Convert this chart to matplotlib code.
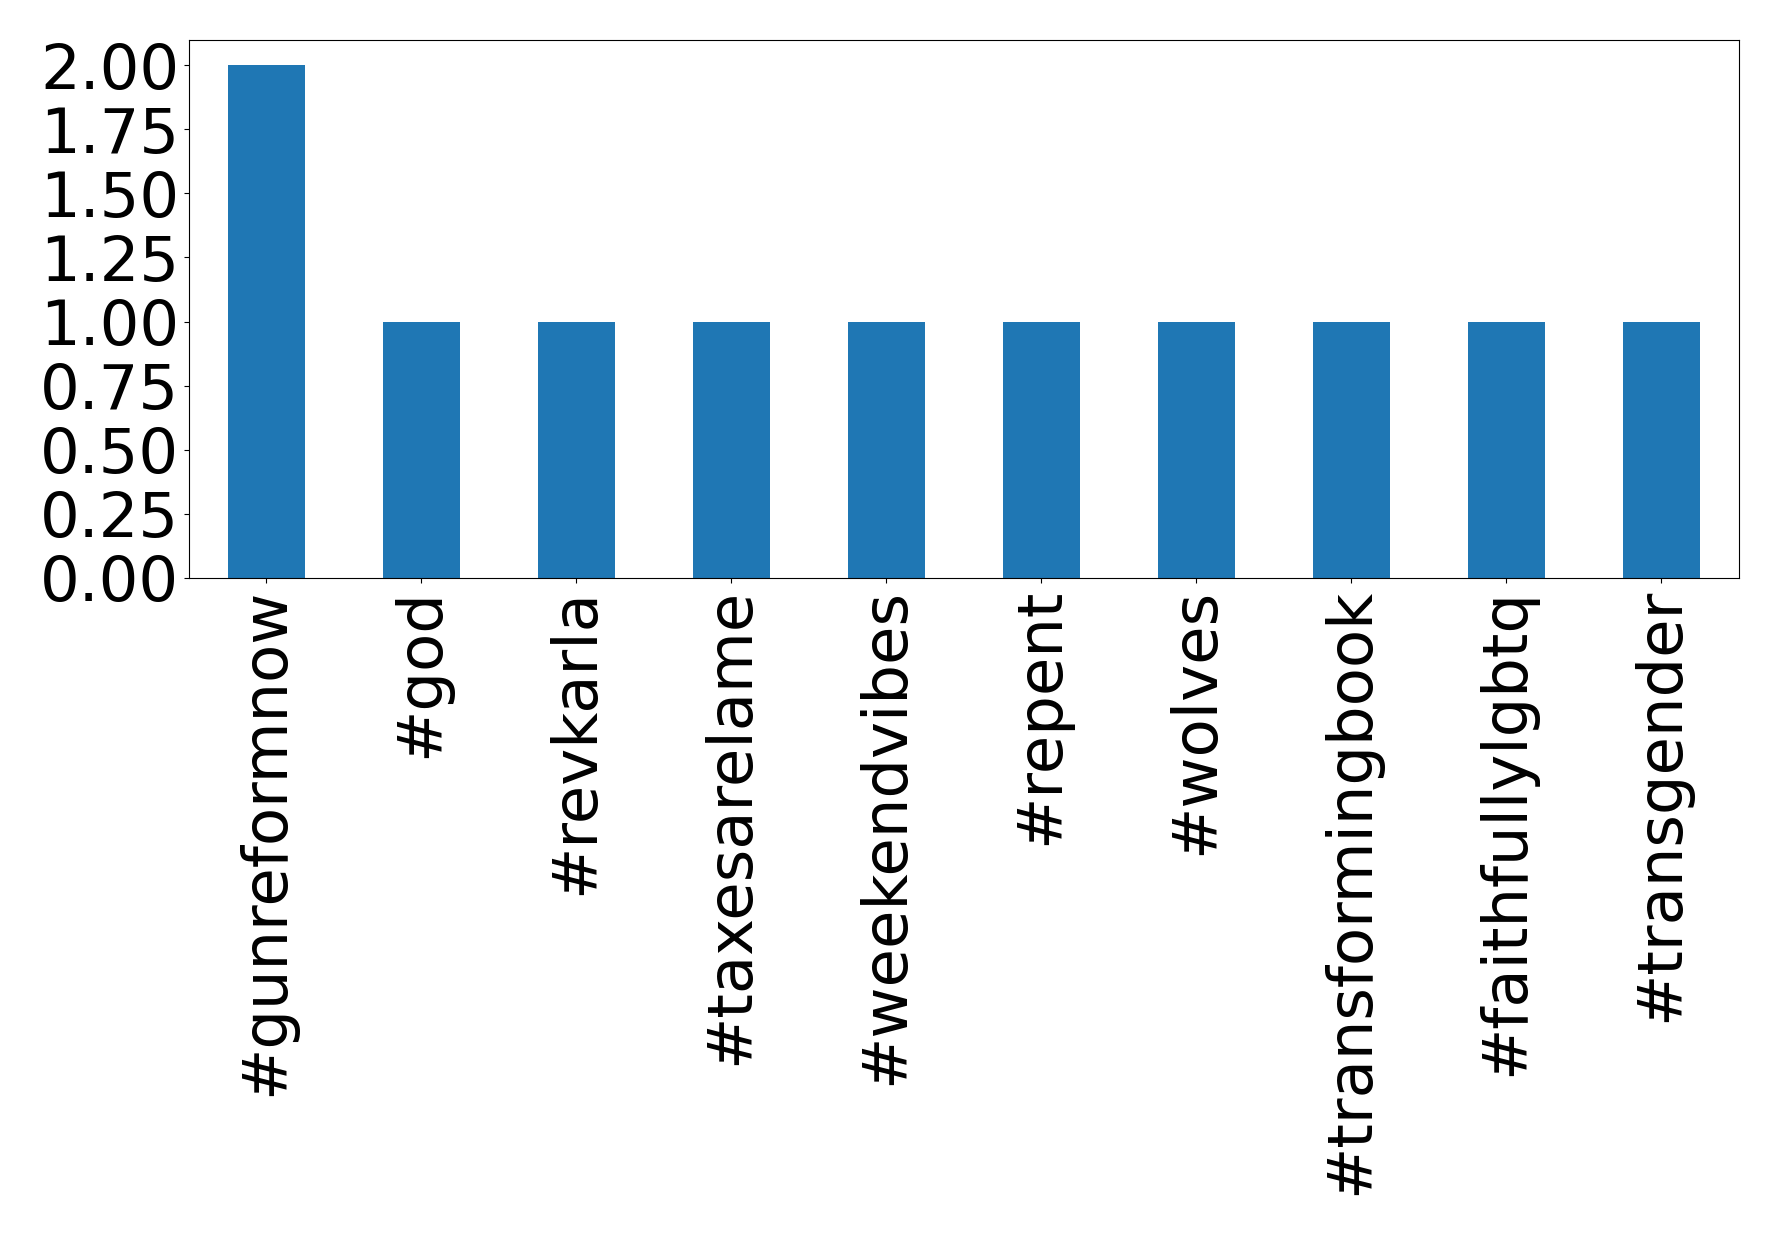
import matplotlib
matplotlib.use('Agg')
import matplotlib.pyplot as plt

hashtags = ['#gunreformnow', '#god', '#revkarla', '#taxesarelame', '#weekendvibes',
            '#repent', '#wolves', '#transformingbook', '#faithfullylgbtq', '#transgender']
counts = [2, 1, 1, 1, 1, 1, 1, 1, 1, 1]

fig, ax = plt.subplots(figsize=(17.78, 12.35), dpi=100)
fig.subplots_adjust(left=0.1063, right=0.978, top=0.968, bottom=0.532)

x = range(len(hashtags))
ax.bar(x, counts, width=0.5, color='#1f77b4')
ax.set_xlim(-0.5, len(hashtags) - 0.5)
ax.set_ylim(0, 2.1)
ax.set_yticks([0, 0.25, 0.5, 0.75, 1.0, 1.25, 1.5, 1.75, 2.0])
ax.set_yticklabels(['%.2f' % v for v in ax.get_yticks()])
ax.set_xticks(list(x))
ax.set_xticklabels(hashtags, rotation=90)
ax.tick_params(axis='both', labelsize=45)

fig.savefig('out.png', dpi=100)
